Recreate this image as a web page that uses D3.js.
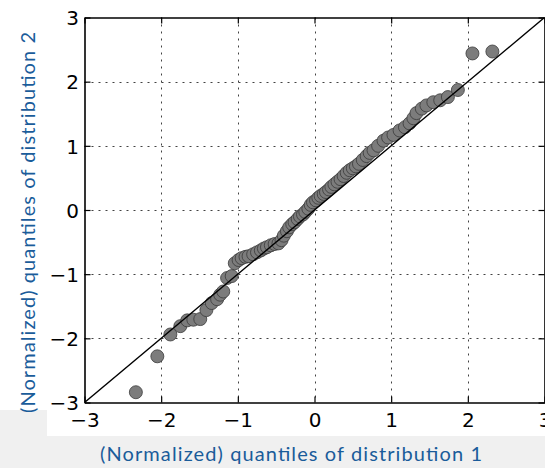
<!DOCTYPE html>
<html>
<head>
<meta charset="utf-8">
<script src="https://cdn.jsdelivr.net/npm/d3@7"></script>
<style>
  html, body { margin: 0; padding: 0; background: #ffffff; }
  svg { display: block; }
</style>
</head>
<body>
<svg id="chart" width="545" height="468"></svg>
<script>
// Sorted sample quantiles: distribution 1 (x) against distribution 2 (y)
const quantilesDist1 = [
  -2.33, -2.05, -1.88, -1.75, -1.66, -1.58, -1.49, -1.41, -1.34, -1.27,
  -1.23, -1.19, -1.14, -1.08, -1.04, -0.99, -0.95, -0.90, -0.86, -0.80,
  -0.75, -0.70, -0.66, -0.62, -0.57, -0.52, -0.47, -0.43, -0.40, -0.36,
  -0.33, -0.29, -0.26, -0.22, -0.19, -0.15, -0.12, -0.08, -0.05, -0.02,
   0.02,  0.05,  0.08,  0.12,  0.15,  0.19,  0.22,  0.26,  0.30,  0.34,
   0.38,  0.42,  0.46,  0.50,  0.54,  0.58,  0.63,  0.68,  0.72,  0.77,
   0.83,  0.90,  0.96,  1.03,  1.11,  1.18,  1.24,  1.29,  1.33,  1.40,
   1.46,  1.55,  1.64,  1.74,  1.87,  2.06,  2.32
];
const quantilesDist2 = [
  -2.84, -2.28, -1.94, -1.81, -1.72, -1.71, -1.70, -1.56, -1.45, -1.39,
  -1.32, -1.27, -1.06, -1.03, -0.83, -0.78, -0.75, -0.73, -0.72, -0.69,
  -0.66, -0.63, -0.60, -0.58, -0.55, -0.53, -0.52, -0.47, -0.40, -0.33,
  -0.27, -0.22, -0.19, -0.14, -0.10, -0.07, -0.03,  0.02,  0.08,  0.12,
   0.15,  0.19,  0.22,  0.25,  0.28,  0.32,  0.36,  0.40,  0.44,  0.48,
   0.53,  0.58,  0.62,  0.65,  0.68,  0.72,  0.78,  0.84,  0.89,  0.93,
   1.00,  1.08,  1.13,  1.17,  1.24,  1.29,  1.35,  1.43,  1.51,  1.58,
   1.63,  1.68,  1.71,  1.76,  1.87,  2.44,  2.47
];
const tickValues = [-3, -2, -1, 0, 1, 2, 3];
const axisDomain = [-3, 3];
const xTitle = "(Normalized) quantiles of distribution 1";
const yTitle = "(Normalized) quantiles of distribution 2";

const svg = d3.select("#chart");
const W = 545, H = 468;
const plot = { left: 84.5, right: 544.5, top: 17.5, bottom: 402.5 };
const titleColor = "#1a5c9a";

// Page background: light grey strip along the bottom and lower-left corner
svg.append("rect").attr("x", 0).attr("y", 0).attr("width", W).attr("height", H).attr("fill", "#ffffff");
svg.append("rect").attr("x", 0).attr("y", 436).attr("width", W).attr("height", H - 436).attr("fill", "#f0f0f0");
svg.append("rect").attr("x", 0).attr("y", 410).attr("width", 47).attr("height", 26).attr("fill", "#f0f0f0");

const x = d3.scaleLinear().domain(axisDomain).range([plot.left, plot.right]);
const y = d3.scaleLinear().domain(axisDomain).range([plot.bottom, plot.top]);

svg.append("clipPath").attr("id", "plotClip")
  .append("rect")
  .attr("x", plot.left).attr("y", plot.top)
  .attr("width", plot.right - plot.left).attr("height", plot.bottom - plot.top);

// Dotted grid
const grid = svg.append("g").attr("stroke", "#222").attr("stroke-width", 1)
  .attr("stroke-dasharray", "2,5").attr("opacity", 0.85);
grid.selectAll("line.v").data(tickValues.slice(1, -1)).join("line")
  .attr("x1", d => Math.round(x(d)) + 0.5).attr("x2", d => Math.round(x(d)) + 0.5)
  .attr("y1", plot.top).attr("y2", plot.bottom);
grid.selectAll("line.h").data(tickValues.slice(1, -1)).join("line")
  .attr("y1", d => Math.round(y(d)) + 0.5).attr("y2", d => Math.round(y(d)) + 0.5)
  .attr("x1", plot.left).attr("x2", plot.right);

const plotArea = svg.append("g").attr("clip-path", "url(#plotClip)");

// Sample points
const pts = quantilesDist1.map((v, i) => [v, quantilesDist2[i]]);
plotArea.append("g").selectAll("circle").data(pts).join("circle")
  .attr("cx", d => x(d[0])).attr("cy", d => y(d[1])).attr("r", 6.5)
  .attr("fill", "#7c7c7c").attr("stroke", "#3a3a3a").attr("stroke-width", 0.8);

// Reference line y = x
plotArea.append("line")
  .attr("x1", x(axisDomain[0])).attr("y1", y(axisDomain[0]))
  .attr("x2", x(axisDomain[1])).attr("y2", y(axisDomain[1]))
  .attr("stroke", "#000").attr("stroke-width", 1.4);

// Axes with inward ticks on all four sides
const tickFont = "'DejaVu Sans', sans-serif";
const fmt = d => d3.format("d")(d).replace("-", "\u2212");
const bottomAxis = d3.axisBottom(x).tickValues(tickValues).tickSizeInner(-6).tickSizeOuter(0)
  .tickPadding(10.5).tickFormat(fmt);
const leftAxis = d3.axisLeft(y).tickValues(tickValues).tickSizeInner(-6).tickSizeOuter(0)
  .tickPadding(5.5).tickFormat(fmt);
const topAxis = d3.axisTop(x).tickValues(tickValues).tickSizeInner(-6).tickSizeOuter(0).tickFormat("");
const rightAxis = d3.axisRight(y).tickValues(tickValues).tickSizeInner(-6).tickSizeOuter(0).tickFormat("");

function styleAxis(g) {
  g.select(".domain").attr("stroke", "#000").attr("stroke-width", 1.6);
  g.selectAll(".tick line").attr("stroke", "#000").attr("stroke-width", 1.2);
  g.selectAll(".tick text").attr("fill", "#000").style("font-family", tickFont).style("font-size", "20px");
}

svg.append("g").attr("transform", `translate(0,${plot.bottom})`).call(bottomAxis).call(styleAxis);
svg.append("g").attr("transform", `translate(${plot.left},0)`).call(leftAxis).call(styleAxis)
  .selectAll(".tick text").attr("dy", "0.36em");
svg.append("g").attr("transform", `translate(0,${plot.top})`).call(topAxis).call(styleAxis);
svg.append("g").attr("transform", `translate(${plot.right},0)`).call(rightAxis).call(styleAxis);

// Axis titles
const titleFont = "Lato, 'Open Sans', sans-serif";
svg.append("text")
  .attr("x", 291).attr("y", 461)
  .attr("text-anchor", "middle")
  .attr("fill", titleColor)
  .attr("textLength", 382).attr("lengthAdjust", "spacing")
  .style("font-family", titleFont).style("font-size", "20px")
  .text(xTitle);

svg.append("text")
  .attr("transform", "translate(35,222.5) rotate(-90)")
  .attr("text-anchor", "middle")
  .attr("fill", titleColor)
  .attr("textLength", 381).attr("lengthAdjust", "spacing")
  .style("font-family", titleFont).style("font-size", "20px")
  .text(yTitle);
</script>
</body>
</html>
